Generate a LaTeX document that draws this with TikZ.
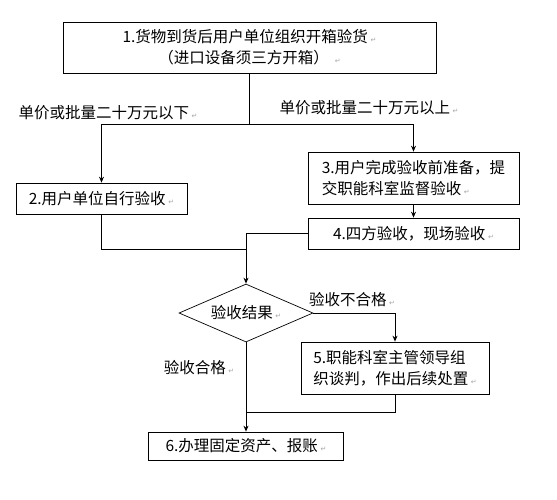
\documentclass[tikz,border=0pt]{standalone}
\usepackage{fontspec}
\setmainfont{Noto Sans CJK SC}
\newfontfamily\symfont{DejaVu Sans}
\usetikzlibrary{shapes.geometric,arrows.meta}
\newcommand{\retmark}{\,{\symfont\fontsize{7}{7}\selectfont\color{gray!70}↵}}

\begin{document}
\begin{tikzpicture}[
    x=1pt, y=-1pt,
    every node/.style={font=\fontsize{15.5}{21}\selectfont, inner sep=0pt},
    box/.style={draw, line width=0.7pt, align=center},
    cond/.style={draw, diamond, aspect=2.3, line width=0.7pt, minimum width=134pt, minimum height=58pt},
    note/.style={anchor=center},
    wire/.style={line width=1pt},
    flow/.style={wire, -{Stealth[length=6pt,width=5pt]}}
]
\path[fill=white] (0,0) rectangle (557,499);

% Box 1
\node[box, minimum width=373pt, minimum height=51pt] (recv) at (249.5,47.5) {1.货物到货后用户单位组织开箱验货\retmark\\（进口设备须三方开箱） \retmark};

% Branch labels
\node[note] (below) at (108,113) {单价或批量二十万元以下\retmark};
\node[note] (above) at (369,108) {单价或批量二十万元以上\retmark};

% Box 2
\node[box, minimum width=171pt, minimum height=31pt] (self) at (101.5,198.5) {2.用户单位自行验收\retmark};

% Box 3
\node[box, align=left, minimum width=211pt, minimum height=52pt] (prep) at (413.5,178) {3.用户完成验收前准备，提\\交职能科室监督验收\retmark};

% Box 4
\node[box, minimum width=211pt, minimum height=31pt] (joint) at (413.5,233.5) {4.四方验收，现场验收\retmark};

% Decision
\node[cond] (result) at (246,313) {验收结果\retmark};
\node[note] (fail) at (352,300) {验收不合格\retmark};
\node[note] (pass) at (199,368) {验收合格\retmark};

% Box 5
\node[box, align=left, minimum width=188pt, minimum height=52pt] (talk) at (395,368) {5.职能科室主管领导组\\织谈判，作出后续处置\retmark};

% Box 6
\node[box, minimum width=195pt, minimum height=28pt] (asset) at (246,446) {6.办理固定资产、报账\retmark};

% Connectors
\coordinate (split) at (249.5,124);
\coordinate (join) at (246,249);
\coordinate (merge) at (246,412);
\draw[wire] (recv.south) -- (split);
\draw[flow] (split) -| (self.north);
\draw[flow] (split) -| (prep.north);
\draw[flow] (prep) -- (joint);
\draw[wire] (self.south) |- (join);
\draw[wire] (joint.west) -| (join);
\draw[flow] (join) -- (result.north);
\draw[flow] (result.east) -| (talk.north);
\draw[flow] (result.south) -- (asset.north);
\draw[wire] (talk.south) |- (merge);

\end{tikzpicture}
\end{document}
